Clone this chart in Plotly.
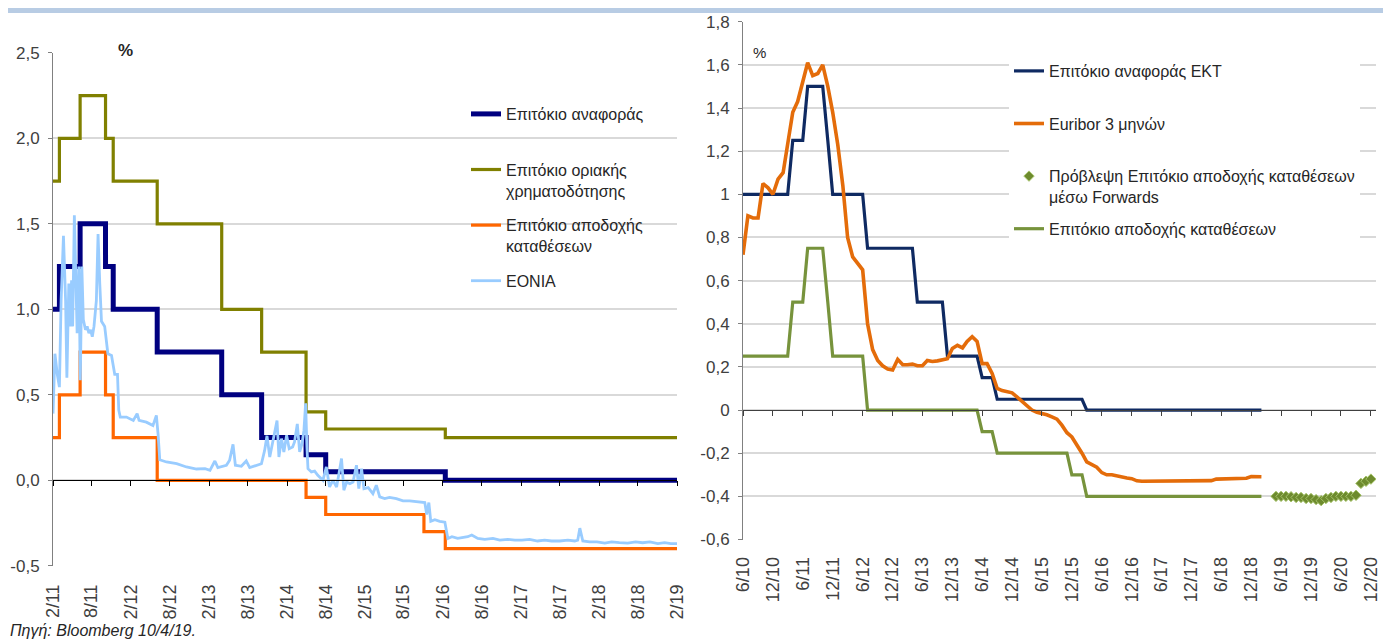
import plotly.graph_objects as go
import pandas as pd

FONT = "Liberation Sans, Arial, sans-serif"
W, H = 1391, 639
OFF = 8  # page body margin of the html page

# ---------------- Left chart data ----------------
step_dates = ["2011-02-01", "2011-03-03", "2011-06-08", "2011-10-05", "2011-11-10",
              "2012-06-03", "2013-04-01", "2013-10-05", "2014-05-01", "2014-08-01",
              "2015-11-04", "2016-02-12", "2019-02-01"]
refi_left = [1.0, 1.25, 1.5, 1.25, 1.0, 0.75, 0.5, 0.25, 0.15, 0.05, 0.05, 0.0, 0.0]
mlf_left = [1.75, 2.0, 2.25, 2.0, 1.75, 1.5, 1.0, 0.75, 0.4, 0.3, 0.3, 0.25, 0.25]
depo_left = [0.25, 0.5, 0.75, 0.5, 0.25, 0.0, 0.0, 0.0, -0.1, -0.2, -0.3, -0.4, -0.4]

eonia_dates = [
    "2011-02-01", "2011-02-10", "2011-02-21", "2011-03-03", "2011-03-11", "2011-03-22",
    "2011-04-01", "2011-04-07", "2011-04-16", "2011-04-23", "2011-04-29", "2011-05-04",
    "2011-05-12", "2011-05-21", "2011-05-25", "2011-06-02", "2011-06-09", "2011-06-16",
    "2011-06-23", "2011-07-03", "2011-07-11", "2011-07-19", "2011-07-27", "2011-08-04",
    "2011-08-12", "2011-08-23", "2011-08-31", "2011-09-08", "2011-09-16", "2011-10-01",
    "2011-10-16", "2011-11-02", "2011-11-17", "2011-11-30", "2011-12-06", "2011-12-13",
    "2012-01-11", "2012-02-12", "2012-03-01", "2012-03-10", "2012-04-13", "2012-05-14",
    "2012-05-30", "2012-06-07", "2012-06-15", "2012-07-16", "2012-09-02", "2012-10-18",
    "2012-12-04", "2013-01-13", "2013-02-05", "2013-02-28", "2013-03-14", "2013-04-23",
    "2013-05-08", "2013-05-24", "2013-06-04", "2013-07-02", "2013-07-25", "2013-08-10",
    "2013-09-11", "2013-10-04", "2013-10-19", "2013-10-30", "2013-11-12", "2013-11-28",
    "2013-12-16", "2013-12-25", "2014-01-06", "2014-01-17", "2014-01-30", "2014-02-11",
    "2014-02-27", "2014-03-08", "2014-03-21", "2014-04-01", "2014-04-12", "2014-04-21",
    "2014-04-29", "2014-05-05", "2014-05-10", "2014-05-26", "2014-06-10", "2014-06-25",
    "2014-07-19", "2014-08-04", "2014-08-19", "2014-09-04", "2014-09-21", "2014-10-06",
    "2014-10-14", "2014-10-25", "2014-11-07", "2014-11-22", "2014-12-07", "2014-12-23",
    "2015-01-03", "2015-01-16", "2015-01-27", "2015-02-16", "2015-03-10", "2015-03-26",
    "2015-04-11", "2015-05-04", "2015-05-27", "2015-06-28", "2015-07-29", "2015-08-29",
    "2015-10-15", "2015-11-08", "2015-11-17", "2015-11-27", "2015-12-06", "2015-12-25",
    "2016-01-17", "2016-02-10", "2016-02-24", "2016-03-14", "2016-04-10", "2016-05-03",
    "2016-05-27", "2016-06-15", "2016-07-13", "2016-08-15", "2016-09-22", "2016-10-24",
    "2016-12-01", "2017-01-03", "2017-02-05", "2017-03-13", "2017-04-19", "2017-05-22",
    "2017-06-24", "2017-08-01", "2017-09-08", "2017-10-10", "2017-10-24", "2017-11-03",
    "2017-11-17", "2017-12-19", "2018-01-22", "2018-02-28", "2018-04-01", "2018-05-07",
    "2018-06-15", "2018-07-22", "2018-08-24", "2018-09-27", "2018-11-03", "2018-12-05",
    "2019-01-03", "2019-02-01"]
eonia_vals = [
    0.39, 0.74, 0.62, 0.545, 1.05, 1.43,
    1.05, 0.60, 1.15, 0.90, 1.17, 0.90,
    1.55, 1.09, 0.86, 1.25, 0.585, 1.25,
    0.94, 0.88, 0.90, 0.86, 0.88, 0.84,
    0.90, 1.05, 1.44, 1.15, 0.93, 0.90,
    0.74, 0.73, 0.62, 0.62, 0.41, 0.37,
    0.37, 0.35, 0.39, 0.35, 0.34, 0.32,
    0.38, 0.27, 0.12, 0.107, 0.097, 0.078,
    0.066, 0.068, 0.058, 0.113, 0.074, 0.088,
    0.117, 0.21, 0.088, 0.082, 0.113, 0.074,
    0.088, 0.097, 0.175, 0.26, 0.136, 0.234,
    0.35, 0.136, 0.244, 0.166, 0.263, 0.185,
    0.195, 0.224, 0.33, 0.166, 0.214, 0.29,
    0.45, 0.195, 0.068, 0.049, 0.054, 0.029,
    0.0, 0.078, -0.039, 0.0, -0.039, 0.068,
    0.127, -0.058, -0.01, -0.02, -0.01, 0.088,
    -0.049, 0.068, -0.049, -0.043, -0.078, -0.029,
    -0.097, -0.107, -0.10, -0.107, -0.12, -0.12,
    -0.127, -0.13, -0.20, -0.13, -0.24, -0.23,
    -0.24, -0.245, -0.34, -0.33, -0.34, -0.335,
    -0.33, -0.32, -0.34, -0.345, -0.34, -0.35,
    -0.345, -0.35, -0.35, -0.345, -0.355, -0.35,
    -0.355, -0.355, -0.35, -0.355, -0.35, -0.28,
    -0.355, -0.36, -0.36, -0.367, -0.36, -0.365,
    -0.367, -0.36, -0.365, -0.36, -0.37, -0.365,
    -0.37, -0.37]

left_tickvals = ["2011-02-01", "2011-08-01", "2012-02-01", "2012-08-01", "2013-02-01",
                 "2013-08-01", "2014-02-01", "2014-08-01", "2015-02-01", "2015-08-01",
                 "2016-02-01", "2016-08-01", "2017-02-01", "2017-08-01", "2018-02-01",
                 "2018-08-01", "2019-02-01"]
left_ticktext = ["2/11", "8/11", "2/12", "8/12", "2/13", "8/13", "2/14", "8/14", "2/15",
                 "8/15", "2/16", "8/16", "2/17", "8/17", "2/18", "8/18", "2/19"]
left_yvals = [-0.5, 0.0, 0.5, 1.0, 1.5, 2.0, 2.5]
left_ytext = ["-0,5", "0,0", "0,5", "1,0", "1,5", "2,0", "2,5"]

# ---------------- Right chart data (monthly, 6/2010 - 2/2019) ----------------
months = pd.date_range("2010-06-01", periods=105, freq="MS")
refi_right = [
    1.0, 1.0, 1.0, 1.0, 1.0, 1.0, 1.0, 1.0, 1.0, 1.0,
    1.25, 1.25, 1.25, 1.5, 1.5, 1.5, 1.5, 1.25, 1.0, 1.0,
    1.0, 1.0, 1.0, 1.0, 1.0, 0.75, 0.75, 0.75, 0.75, 0.75,
    0.75, 0.75, 0.75, 0.75, 0.75, 0.5, 0.5, 0.5, 0.5, 0.5,
    0.5, 0.25, 0.25, 0.25, 0.25, 0.25, 0.25, 0.25, 0.15, 0.15,
    0.15, 0.05, 0.05, 0.05, 0.05, 0.05, 0.05, 0.05, 0.05, 0.05,
    0.05, 0.05, 0.05, 0.05, 0.05, 0.05, 0.05, 0.05, 0.05, 0.0,
    0.0, 0.0, 0.0, 0.0, 0.0, 0.0, 0.0, 0.0, 0.0, 0.0,
    0.0, 0.0, 0.0, 0.0, 0.0, 0.0, 0.0, 0.0, 0.0, 0.0,
    0.0, 0.0, 0.0, 0.0, 0.0, 0.0, 0.0, 0.0, 0.0, 0.0,
    0.0, 0.0, 0.0, 0.0, 0.0]
euribor_right = [
    0.72, 0.90, 0.89, 0.89, 1.05, 1.03, 1.00, 1.07, 1.10, 1.24,
    1.38, 1.43, 1.53, 1.61, 1.55, 1.56, 1.60, 1.50, 1.38, 1.23,
    1.04, 0.80, 0.71, 0.68, 0.65, 0.40, 0.28, 0.23, 0.205, 0.19,
    0.186, 0.235, 0.21, 0.21, 0.213, 0.205, 0.205, 0.23, 0.225, 0.228,
    0.232, 0.238, 0.285, 0.30, 0.288, 0.318, 0.34, 0.318, 0.215, 0.215,
    0.17, 0.10, 0.09, 0.087, 0.08, 0.06, 0.04, 0.022, 0.0, -0.01,
    -0.015, -0.022, -0.032, -0.042, -0.07, -0.105, -0.125, -0.16, -0.20, -0.24,
    -0.255, -0.265, -0.29, -0.30, -0.30, -0.305, -0.313, -0.315, -0.318, -0.328,
    -0.33, -0.33, -0.329, -0.33, -0.33, -0.329, -0.33, -0.329, -0.33, -0.328,
    -0.328, -0.329, -0.328, -0.328, -0.327, -0.32, -0.32, -0.318, -0.318, -0.317,
    -0.317, -0.316, -0.308, -0.308, -0.309]
depo_right = [
    0.25, 0.25, 0.25, 0.25, 0.25, 0.25, 0.25, 0.25, 0.25, 0.25,
    0.5, 0.5, 0.5, 0.75, 0.75, 0.75, 0.75, 0.5, 0.25, 0.25,
    0.25, 0.25, 0.25, 0.25, 0.25, 0.0, 0.0, 0.0, 0.0, 0.0,
    0.0, 0.0, 0.0, 0.0, 0.0, 0.0, 0.0, 0.0, 0.0, 0.0,
    0.0, 0.0, 0.0, 0.0, 0.0, 0.0, 0.0, 0.0, -0.1, -0.1,
    -0.1, -0.2, -0.2, -0.2, -0.2, -0.2, -0.2, -0.2, -0.2, -0.2,
    -0.2, -0.2, -0.2, -0.2, -0.2, -0.2, -0.3, -0.3, -0.3, -0.4,
    -0.4, -0.4, -0.4, -0.4, -0.4, -0.4, -0.4, -0.4, -0.4, -0.4,
    -0.4, -0.4, -0.4, -0.4, -0.4, -0.4, -0.4, -0.4, -0.4, -0.4,
    -0.4, -0.4, -0.4, -0.4, -0.4, -0.4, -0.4, -0.4, -0.4, -0.4,
    -0.4, -0.4, -0.4, -0.4, -0.4]
fwd_months = pd.date_range("2019-05-01", periods=20, freq="MS")
fwd_depo = [-0.40, -0.40, -0.40, -0.402, -0.405, -0.405, -0.41, -0.41, -0.415, -0.42,
            -0.41, -0.405, -0.40, -0.40, -0.40, -0.40, -0.395, -0.34, -0.33, -0.32]

right_tickvals = [f"{y}-{m:02d}-01" for y in range(2010, 2021) for m in (6, 12)]
right_ticktext = ["6/10", "12/10", "6/11", "12/11", "6/12", "12/12", "6/13", "12/13",
                  "6/14", "12/14", "6/15", "12/15", "6/16", "12/16", "6/17", "12/17",
                  "6/18", "12/18", "6/19", "12/19", "6/20", "12/20"]
right_yvals = [-0.6, -0.4, -0.2, 0.0, 0.2, 0.4, 0.6, 0.8, 1.0, 1.2, 1.4, 1.6, 1.8]
right_ytext = ["-0,6", "-0,4", "-0,2", "0", "0,2", "0,4", "0,6", "0,8", "1", "1,2",
               "1,4", "1,6", "1,8"]

# ---------------- geometry (screen pixels -> paper) ----------------
def px(x):
    return (x - OFF) / W

def py(y):
    return 1 - (y - OFF) / H

L_X = [px(53), px(677)]
L_Y = [py(565.8), py(52.8)]
R_X = [px(743), px(1376)]
R_Y = [py(539.5), py(21.7)]
L_RANGE = ["2011-02-01", "2019-02-01"]
R_RANGE = ["2010-06-01", "2021-01-01"]

fig = go.Figure()

pad2 = "<br>\u00a0"
# left traces
fig.add_trace(go.Scatter(x=step_dates, y=refi_left, mode="lines", line_shape="hv",
                         line=dict(color="#000080", width=5), name="Επιτόκιο αναφοράς" + pad2,
                         legend="legend", legendgroup="a", xaxis="x", yaxis="y"))
fig.add_trace(go.Scatter(x=step_dates, y=mlf_left, mode="lines", line_shape="hv",
                         line=dict(color="#808000", width=3.2),
                         name="Επιτόκιο οριακής<br>χρηματοδότησης",
                         legend="legend", legendgroup="b", xaxis="x", yaxis="y"))
fig.add_trace(go.Scatter(x=step_dates, y=depo_left, mode="lines", line_shape="hv",
                         line=dict(color="#FF6600", width=3.2),
                         name="Επιτόκιο αποδοχής<br>καταθέσεων",
                         legend="legend", legendgroup="c", xaxis="x", yaxis="y"))
fig.add_trace(go.Scatter(x=eonia_dates, y=eonia_vals, mode="lines",
                         line=dict(color="#99CCFF", width=2.8), name="EONIA" + pad2,
                         legend="legend", legendgroup="d", xaxis="x", yaxis="y"))

# right traces
fig.add_trace(go.Scatter(x=months, y=refi_right, mode="lines",
                         line=dict(color="#0F2A62", width=3.2), name="Επιτόκιο αναφοράς ΕΚΤ" + pad2,
                         legend="legend2", legendgroup="e", xaxis="x2", yaxis="y2"))
fig.add_trace(go.Scatter(x=months, y=euribor_right, mode="lines",
                         line=dict(color="#E46C0A", width=3.6), name="Euribor 3 μηνών" + pad2,
                         legend="legend2", legendgroup="f", xaxis="x2", yaxis="y2"))
fig.add_trace(go.Scatter(x=fwd_months, y=fwd_depo, mode="markers",
                         marker=dict(symbol="diamond", size=8, color="#6E8B2E",
                                     line=dict(color="#A6C46A", width=1)),
                         name="Πρόβλεψη Επιτόκιο αποδοχής καταθέσεων<br>μέσω Forwards",
                         legend="legend2", legendgroup="g", xaxis="x2", yaxis="y2"))
fig.add_trace(go.Scatter(x=months, y=depo_right, mode="lines",
                         line=dict(color="#77933C", width=3.2), name="Επιτόκιο αποδοχής καταθέσεων" + pad2,
                         legend="legend2", legendgroup="h", xaxis="x2", yaxis="y2"))

# empty traces to bind zero-line axes
fig.add_trace(go.Scatter(x=[], y=[], xaxis="x3", yaxis="y", showlegend=False))
fig.add_trace(go.Scatter(x=[], y=[], xaxis="x4", yaxis="y2", showlegend=False))

xtickfont = dict(family=FONT, size=18, color="#404040")
ytickfont = dict(family=FONT, size=17, color="#404040")
ax_common = dict(showgrid=False, zeroline=False, type="date", automargin=False)

fig.update_layout(
    template="none",
    width=W, height=H, margin=dict(l=0, r=0, t=0, b=0, pad=0, autoexpand=False),
    paper_bgcolor="white", plot_bgcolor="white",
    font=dict(family=FONT, size=16, color="#262626"),
    xaxis=dict(domain=L_X, range=L_RANGE, anchor="y", tickvals=left_tickvals,
               ticktext=left_ticktext, tickangle=-90, ticks="", showline=False,
               tickfont=xtickfont, ticklabelstandoff=14, **ax_common),
    xaxis3=dict(overlaying="x", anchor="free", position=py(480.3), range=L_RANGE,
                tickvals=left_tickvals, showticklabels=False, ticks="outside",
                ticklen=5, tickcolor="#000000", showline=True, linecolor="#000000",
                linewidth=1, **ax_common),
    yaxis=dict(domain=L_Y, range=[-0.5, 2.5], anchor="x", tickvals=left_yvals,
               ticktext=left_ytext, showgrid=True, gridcolor="#D9D9D9", gridwidth=1.6,
               zeroline=False, showline=True, linecolor="#808080", linewidth=1,
               ticks="outside", ticklen=4, tickcolor="#808080", tickfont=ytickfont,
               ticklabelstandoff=5, automargin=False),
    xaxis2=dict(domain=R_X, range=R_RANGE, anchor="y2", tickvals=right_tickvals,
                ticktext=right_ticktext, tickangle=-90, ticks="", showline=False,
                tickfont=xtickfont, ticklabelstandoff=13, **ax_common),
    xaxis4=dict(overlaying="x2", anchor="free", position=py(409.7), range=R_RANGE,
                tickvals=right_tickvals, showticklabels=False, ticks="outside",
                ticklen=5, tickcolor="#404040", showline=True, linecolor="#404040",
                linewidth=1, **ax_common),
    yaxis2=dict(domain=R_Y, range=[-0.6, 1.8], anchor="x2", tickvals=right_yvals,
                ticktext=right_ytext, showgrid=True, gridcolor="#D9D9D9", gridwidth=1.6,
                zeroline=False, showline=True, linecolor="#808080", linewidth=1,
                ticks="outside", ticklen=4, tickcolor="#808080", tickfont=ytickfont,
                ticklabelstandoff=5, automargin=False),
    legend=dict(x=px(466), y=py(97), xanchor="left", yanchor="top",
                bgcolor="rgba(0,0,0,0)", font=dict(family=FONT, size=16, color="#262626"),
                tracegroupgap=11, valign="top", traceorder="grouped", borderwidth=0),
    legend2=dict(x=px(1009), y=py(54), xanchor="left", yanchor="top",
                 bgcolor="white", font=dict(family=FONT, size=16, color="#262626"),
                 tracegroupgap=8, valign="top", traceorder="grouped", borderwidth=0),
    showlegend=True,
)

# top banner
fig.add_shape(type="rect", xref="paper", yref="paper", x0=0, x1=1, y0=1 - 5 / H, y1=1,
              fillcolor="#B8CCE4", line=dict(width=0), layer="above")

fig.add_annotation(text="<b>%</b>", xref="paper", yref="paper", x=px(125), y=py(50),
                   xanchor="center", yanchor="middle", showarrow=False,
                   font=dict(family=FONT, size=17, color="#262626"))
fig.add_annotation(text="%", xref="paper", yref="paper", x=px(759), y=py(52),
                   xanchor="center", yanchor="middle", showarrow=False,
                   font=dict(family=FONT, size=15, color="#262626"))
fig.add_annotation(text="<i>Πηγή: Bloomberg 10/4/19.</i>", xref="paper", yref="paper",
                   x=0, y=py(630), xanchor="left", yanchor="middle", showarrow=False,
                   font=dict(family=FONT, size=16, color="#262626"))

fig.write_html("out.html")
